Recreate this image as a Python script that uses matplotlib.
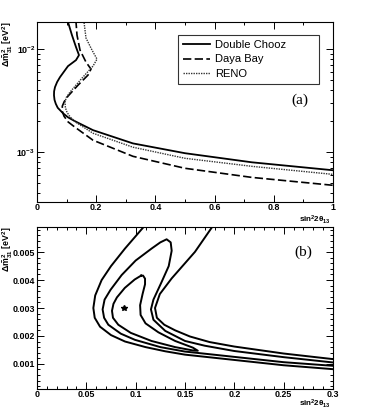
import numpy as np
import matplotlib
matplotlib.use("Agg")
import matplotlib.pyplot as plt
from matplotlib.ticker import MultipleLocator, FixedLocator, NullFormatter, LogLocator
from matplotlib import font_manager

plt.rcParams['font.family'] = ['Liberation Sans', 'DejaVu Sans']
plt.rcParams['mathtext.fontset'] = 'custom'
plt.rcParams['mathtext.rm'] = 'Liberation Sans:bold'
plt.rcParams['mathtext.it'] = 'Liberation Sans:italic:bold'
plt.rcParams['mathtext.bf'] = 'Liberation Sans:bold'

names = {f.name for f in font_manager.fontManager.ttflist}
NARROW = 'Liberation Sans Narrow' in names
TICKFAM = ['Liberation Sans Narrow'] if NARROW else ['Liberation Sans']
TICKSIZE = 7.6 if NARROW else 6.4

# ---------------- panel (a) data: sin^2 2theta13 vs dm2 ----------------
dc_s = [0.098, 0.1047, 0.118, 0.1318, 0.1419, 0.1318, 0.1047, 0.0777, 0.068, 0.0608, 0.0578, 0.0574,
        0.0592, 0.0635, 0.0700, 0.0878, 0.105, 0.1284, 0.189, 0.324, 0.5, 0.726, 1.0]
dc_m = [0.0191, 0.0183, 0.01368, 0.01045, 0.00874, 0.00782, 0.00684, 0.00535, 0.0048, 0.00428, 0.0039, 0.00357,
        0.00322, 0.00295, 0.00270, 0.00239, 0.00218, 0.0020, 0.00164, 0.00122, 0.00098, 0.0008, 0.00067]

db_s = [0.1284, 0.1318, 0.1351, 0.1453, 0.1655, 0.1824, 0.1723, 0.1385, 0.1047, 0.0920, 0.0855,
        0.0855, 0.0912, 0.105, 0.1284, 0.1892, 0.3243, 0.5, 0.7264, 1.0]
db_m = [0.0191, 0.0183, 0.01368, 0.00978, 0.00748, 0.0064, 0.0056, 0.00447, 0.0035, 0.0031, 0.0028,
        0.0025, 0.00224, 0.00197, 0.00175, 0.00131, 0.000914, 0.0007, 0.000571, 0.000479]

reno_s = [0.1588, 0.1588, 0.1655, 0.1858, 0.2027, 0.1892, 0.152, 0.1115, 0.0990, 0.0946, 0.0960, 0.1014,
          0.112, 0.1318, 0.1892, 0.3243, 0.5, 0.7264, 1.0]
reno_m = [0.0191, 0.0183, 0.0128, 0.00978, 0.0080, 0.00684, 0.00523, 0.00383, 0.00340, 0.00305, 0.00270, 0.00244,
          0.00220, 0.00195, 0.00153, 0.00112, 0.000875, 0.000731, 0.000611]

labels_a = ["Double Chooz", "Daya Bay", "RENO"]

# ---------------- panel (b) data: contours ----------------
c1_s = [0.1055, 0.099, 0.089, 0.081, 0.0775, 0.0760, 0.0770, 0.0824, 0.095, 0.116, 0.14, 0.158, 0.163,
        0.158, 0.14, 0.123, 0.110, 0.105, 0.1045, 0.107, 0.1095, 0.1095, 0.1075, 0.1055]
c1_m = [0.00416, 0.00402, 0.00372, 0.00338, 0.00315, 0.00290, 0.00265, 0.00240, 0.00211, 0.00182, 0.00160, 0.00148,
        0.00147, 0.00158, 0.00182, 0.00213, 0.00245, 0.00275, 0.0031, 0.00350, 0.00385, 0.00405, 0.00416, 0.00416]

c2_s = [0.30, 0.25, 0.20, 0.17, 0.15, 0.13, 0.118, 0.1155, 0.118, 0.1264, 0.1335, 0.1365, 0.1355, 0.1314,
        0.125, 0.1162, 0.100, 0.0858, 0.0745, 0.0685, 0.0665, 0.0680, 0.0723, 0.085, 0.0993, 0.125, 0.15,
        0.20, 0.25, 0.30]
c2_m = [0.00105, 0.00124, 0.00146, 0.00165, 0.00182, 0.00218, 0.00258, 0.00295, 0.00330, 0.00394, 0.00450, 0.00505,
        0.00535, 0.00546, 0.00535, 0.00513, 0.00470, 0.00418, 0.00365, 0.00330, 0.00295, 0.00265, 0.00240, 0.00208,
        0.00186, 0.00160, 0.00144, 0.00125, 0.00106, 0.00093]

c3l_s = [0.112, 0.1095, 0.0892, 0.075, 0.0655, 0.059, 0.0571, 0.0585, 0.0639, 0.075, 0.0892, 0.11, 0.13,
         0.15, 0.20, 0.25, 0.30]
c3l_m = [0.0062, 0.00596, 0.00513, 0.00450, 0.00400, 0.00345, 0.00300, 0.00265, 0.00233, 0.00203, 0.00180,
         0.00160, 0.00145, 0.00133, 0.00114, 0.00095, 0.00081]

c3r_s = [0.182, 0.1787, 0.1601, 0.1365, 0.1245, 0.1196, 0.1215, 0.1290, 0.14, 0.155, 0.175, 0.20, 0.25, 0.30]
c3r_m = [0.0062, 0.00596, 0.00501, 0.00406, 0.00350, 0.00300, 0.00265, 0.00240, 0.00220, 0.00198, 0.00178,
         0.00162, 0.00137, 0.00117]

best_s = [0.0885]
best_m = [0.0030]

W, H = 370, 409
fig = plt.figure(figsize=(W / 100, H / 100), dpi=100)

def frac(l, t, r, b):
    return [l / W, 1 - b / H, (r - l) / W, (b - t) / H]

def style_axes(ax):
    ax.tick_params(which='both', direction='in', top=True, right=True, width=0.7)
    ax.tick_params(which='major', length=5, pad=1.2)
    ax.tick_params(which='minor', length=2.5)
    for sp in ax.spines.values():
        sp.set_linewidth(0.8)
    for lab in ax.get_xticklabels() + ax.get_yticklabels():
        lab.set_fontsize(TICKSIZE)
        lab.set_fontweight('bold')
        lab.set_fontfamily(TICKFAM)

# ---- panel (a)
ax1 = fig.add_axes(frac(37, 22, 333, 202))
ax1.set_yscale('log')
ax1.plot(dc_s, dc_m, color='black', lw=1.3, ls='-', label=labels_a[0])
ax1.plot(db_s, db_m, color='black', lw=1.2, ls=(0, (5, 2)), label=labels_a[1])
ax1.plot(reno_s, reno_m, color='#333333', lw=1.0, ls=(0, (1, 0.8)), label=labels_a[2])
ax1.set_xlim(0, 1)
ax1.set_ylim(3.3e-4, 1.83e-2)
ax1.xaxis.set_major_locator(FixedLocator([0, 0.2, 0.4, 0.6, 0.8, 1.0]))
ax1.xaxis.set_minor_locator(MultipleLocator(0.1))
ax1.set_xticklabels(['0', '0.2', '0.4', '0.6', '0.8', '1'])
ax1.yaxis.set_major_locator(FixedLocator([1e-3, 1e-2]))
ax1.yaxis.set_minor_locator(LogLocator(base=10, subs=np.arange(2, 10)))
ax1.yaxis.set_minor_formatter(NullFormatter())
ax1.set_yticklabels([r'$\mathbf{10^{-3}}$', r'$\mathbf{10^{-2}}$'])
style_axes(ax1)
ax1.tick_params(axis='x', which='major', pad=0.6)
x0 = (178 - 37) / 296
wl = (319 - 178) / 296
ytop = (202 - 35) / 180
hl = (82 - 35) / 180
leg = ax1.legend(loc='upper left', bbox_to_anchor=(x0, ytop - hl, wl, hl), mode='expand',
                 frameon=True, fancybox=False, edgecolor='black', fontsize=8,
                 handlelength=2.4, borderpad=0.45, labelspacing=0.4, handletextpad=0.5,
                 borderaxespad=0)
leg.get_frame().set_linewidth(0.8)
ax1.text((300 - 37) / 296, (202 - 100) / 180, '(a)', transform=ax1.transAxes,
         ha='center', va='center', fontsize=11, family='Liberation Serif')

# ---- panel (b)
ax2 = fig.add_axes(frac(37, 227, 333, 389))
for xs, ys in [(c1_s, c1_m), (c2_s, c2_m), (c3l_s, c3l_m), (c3r_s, c3r_m)]:
    ax2.plot(xs, ys, color='black', lw=1.4, solid_joinstyle='round')
ax2.plot(best_s, best_m, marker='*', color='black', ms=4, ls='none')
ax2.set_xlim(0, 0.3)
ax2.set_ylim(0.0001, 0.0059)
ax2.xaxis.set_major_locator(FixedLocator([0, 0.05, 0.1, 0.15, 0.2, 0.25, 0.3]))
ax2.xaxis.set_minor_locator(MultipleLocator(0.01))
ax2.set_xticklabels(['0', '0.05', '0.1', '0.15', '0.2', '0.25', '0.3'])
ax2.yaxis.set_major_locator(FixedLocator([0.001, 0.002, 0.003, 0.004, 0.005]))
ax2.yaxis.set_minor_locator(MultipleLocator(0.0002))
ax2.set_yticklabels(['0.001', '0.002', '0.003', '0.004', '0.005'])
style_axes(ax2)
ax2.tick_params(axis='x', which='major', pad=0.6)
ax2.text((303 - 37) / 296, (389 - 252) / 162, '(b)', transform=ax2.transAxes,
         ha='center', va='center', fontsize=11, family='Liberation Serif')

# axis titles
ylab = r'$\mathbf{\Delta\tilde{m}^{2}_{31}}$ [eV$^{\mathbf{2}}$]'
xlab = r'sin$^{\mathbf{2}}$2$\mathbf{\theta_{13}}$'
for top in (22, 227):
    fig.text(8 / W, 1 - top / H, ylab, rotation=90, ha='center', va='top',
             fontsize=6.3, fontweight='bold')
for yc in (219.5, 404):
    fig.text(331 / W, 1 - yc / H, xlab, ha='right', va='center', fontsize=5.8, fontweight='bold')

fig.savefig('out.png', dpi=100)
